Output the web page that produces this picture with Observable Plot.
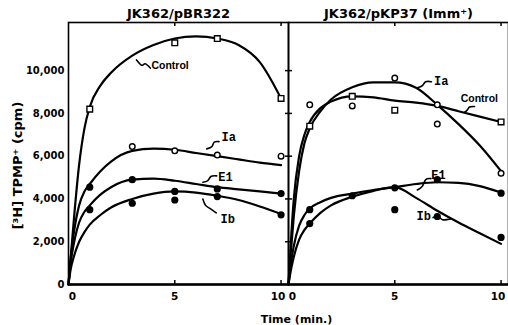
<!DOCTYPE html>
<html><head><meta charset="utf-8">
<script src="https://cdn.jsdelivr.net/npm/d3@7"></script>
<script src="https://cdn.jsdelivr.net/npm/@observablehq/plot@0.6"></script>
<style>body{margin:0;background:#fff;overflow:hidden}</style>
</head><body><div id="chart"></div>
<script>
const panels = ["JK362/pBR322", "JK362/pKP37 (Imm⁺)"];
const xTickZero = [0];
const xTickFive = [5];
const xTickTen = [10];
const xInnerTicks = [5, 10];
const yTicks = [0, 2000, 4000, 6000, 8000, 10000];
const yLabel = "[³H] TPMP⁺ (cpm)";
const xLabel = "Time (min.)";

// fitted curves, read at these times
const curveX = [0, 0.1, 0.25, 0.5, 0.75, 1, 1.5, 2, 3, 4, 5, 6, 7, 8, 9, 10];
const leftControlCurve = [0, 1200, 3000, 5600, 7300, 8300, 9300, 9900, 10700, 11200, 11500, 11600, 11500, 11200, 10400, 8700];
const leftIaCurve      = [0, 1200, 2400, 3700, 4350, 4700, 5300, 5750, 6250, 6350, 6300, 6150, 6000, 5850, 5700, 5580];
const leftE1Curve      = [0, 1000, 1900, 2900, 3400, 3700, 4200, 4550, 4900, 4950, 4850, 4700, 4550, 4450, 4350, 4250];
const leftIbCurve      = [0, 700, 1300, 2000, 2450, 2800, 3250, 3600, 4000, 4250, 4350, 4300, 4150, 3950, 3650, 3300];
const rightControlCurve= [0, 1800, 4000, 6000, 7000, 7600, 8250, 8550, 8800, 8750, 8600, 8500, 8350, 8100, 7850, 7600];
const rightIaCurve     = [0, 1400, 3200, 5300, 6600, 7300, 8100, 8650, 9220, 9450, 9450, 9200, 8400, 7500, 6500, 5300];
const rightE1Curve     = [0, 900, 1800, 2750, 3250, 3550, 3850, 4050, 4250, 4420, 4550, 4700, 4780, 4750, 4600, 4300];
const rightIbCurve     = [0, 600, 1300, 2100, 2550, 2850, 3350, 3700, 4100, 4380, 4550, 4050, 3450, 2900, 2400, 1900];

// measured points [time, cpm]
const leftControlPts = [[1, 8200], [5, 11300], [7, 11500], [10, 8700]];          // open squares
const leftIaPts      = [[3, 6450], [5, 6250], [7, 6050], [10, 6000]];            // open circles
const leftE1Pts      = [[1, 4550], [1, 3500], [3, 4900], [7, 4470], [10, 4250]]; // filled
const leftIbPts      = [[3, 3800], [5, 3950], [5, 4350], [7, 4110], [10, 3260]]; // filled
const rightControlPts= [[1, 7400], [3, 8800], [5, 8150], [10, 7600]];            // open squares
const rightIaPts     = [[1, 8400], [3, 8350], [5, 9650], [7, 8400], [7, 7500], [10, 5200]]; // open circles
const rightE1Pts     = [[1, 3500], [3, 4150], [5, 4520], [7, 4900], [10, 4270]]; // filled
const rightIbPts     = [[1, 2850], [5, 3500], [7, 3180], [10, 2200]];            // filled

// series labels [text, x, y] and their leader squiggles
const leftLabels  = [["Control", 3.9, 10230], ["Ia", 7.2, 6870], ["E1", 7.05, 5000], ["Ib", 7.15, 3040]];
const rightLabels = [["Ia", 6.85, 9490], ["Control", 8.1, 8680], ["E1", 6.72, 5130], ["Ib", 6.02, 3180]];
const leftLeaders = [
  [[3.2, 10500], [3.45, 10250], [3.6, 10320], [3.85, 10120]],
  [[6.5, 6340], [6.75, 6450], [6.85, 6650], [7.08, 6680]],
  [[6.32, 4780], [6.55, 4850], [6.7, 5050], [6.97, 5080]],
  [[6.32, 4000], [6.45, 3700], [6.65, 3560], [6.95, 3350]]
];
const rightLeaders = [
  [[6.06, 9200], [6.3, 9300], [6.45, 9480], [6.72, 9480]],
  [[8.29, 8060], [8.42, 8170], [8.52, 8300], [8.75, 8320]],
  [[6.06, 4420], [6.3, 4600], [6.45, 4900], [6.7, 4950]],
  [[6.8, 3130], [7.05, 3170], [7.25, 3030], [7.62, 3060]]
];

// build tables
const curves = [];
[[panels[0], "Control", leftControlCurve], [panels[0], "Ia", leftIaCurve], [panels[0], "E1", leftE1Curve], [panels[0], "Ib", leftIbCurve],
 [panels[1], "Control", rightControlCurve], [panels[1], "Ia", rightIaCurve], [panels[1], "E1", rightE1Curve], [panels[1], "Ib", rightIbCurve]]
  .forEach(([panel, series, ys]) => ys.forEach((y, i) => curves.push({panel, series: panel + series, x: curveX[i], y})));

const pts = [];
[[panels[0], "square", leftControlPts], [panels[0], "open", leftIaPts], [panels[0], "filled", leftE1Pts], [panels[0], "filled", leftIbPts],
 [panels[1], "square", rightControlPts], [panels[1], "open", rightIaPts], [panels[1], "filled", rightE1Pts], [panels[1], "filled", rightIbPts]]
  .forEach(([panel, marker, arr]) => arr.forEach(([x, y]) => pts.push({panel, marker, x, y})));

const labels = [
  ...leftLabels.map(([text, x, y]) => ({panel: panels[0], text, x, y})),
  ...rightLabels.map(([text, x, y]) => ({panel: panels[1], text, x, y}))
];
const leaders = [];
leftLeaders.forEach((l, k) => l.forEach(([x, y]) => leaders.push({panel: panels[0], id: "L" + k, x, y})));
rightLeaders.forEach((l, k) => l.forEach(([x, y]) => leaders.push({panel: panels[1], id: "R" + k, x, y})));

const tickRows = ticks => panels.flatMap(p => ticks.map(v => ({panel: p, x: v, text: String(v)})));
const titles = panels.map(p => ({panel: p, text: p}));
const innerH = 325 - 22 - 41;
const xTickStyle = {fx: "panel", x: "x", text: "text", frameAnchor: "bottom", lineAnchor: "top", dy: 8, fontSize: 10.5, fontWeight: "bold"};

const chart = Plot.plot({
  width: 508, height: 325,
  marginLeft: 68, marginRight: 0, marginTop: 22, marginBottom: 41,
  style: {fontFamily: "DejaVu Sans", background: "white", color: "black"},
  fx: {domain: panels, padding: 0, axis: null},
  x: {domain: [0, 10.35], axis: null},
  y: {domain: [0, 12250]},
  marks: [
    Plot.frame({strokeWidth: 1.6}),
    Plot.ruleY([0], {strokeWidth: 2.4}),
    Plot.axisY({anchor: "left", ticks: yTicks, tickSize: 0, tickPadding: 4, tickFormat: d3.format(","),
      fontSize: 10, fontWeight: "bold", label: null}),
    Plot.axisY({anchor: "right", facetAnchor: "left", ticks: yTicks.slice(1), tickSize: 3, tickFormat: () => "", label: null, strokeWidth: 1.5}),
    Plot.axisY({anchor: "left", facetAnchor: "right", ticks: yTicks.slice(1), tickSize: 3, tickFormat: () => "", label: null, strokeWidth: 1.5}),
    Plot.text(tickRows(xTickZero), {...xTickStyle, dx: 4}),
    Plot.text(tickRows(xTickFive), xTickStyle),
    Plot.text(tickRows(xTickTen), {...xTickStyle, dx: -3}),
    Plot.ruleX(xInnerTicks, {insetTop: innerH - 4, strokeWidth: 1.5}),
    Plot.ruleX(xInnerTicks, {insetBottom: innerH - 4, strokeWidth: 1.5}),
    Plot.line(curves, {fx: "panel", x: "x", y: "y", z: "series", curve: "monotone-x", strokeWidth: 2.2}),
    Plot.line(leaders, {fx: "panel", x: "x", y: "y", z: "id", curve: "natural", strokeWidth: 1.6}),
    Plot.dot(pts.filter(d => d.marker === "open"), {fx: "panel", x: "x", y: "y", r: 2.8, fill: "white", stroke: "black", strokeWidth: 1.4}),
    Plot.dot(pts.filter(d => d.marker === "square"), {fx: "panel", x: "x", y: "y", symbol: "square", r: 3.2, fill: "white", stroke: "black", strokeWidth: 1.4}),
    Plot.dot(pts.filter(d => d.marker === "filled"), {fx: "panel", x: "x", y: "y", r: 3.6, fill: "black"}),
    Plot.text(labels.filter(d => d.text === "Control"), {fx: "panel", x: "x", y: "y", text: "text", textAnchor: "start",
      fontSize: 10.5, fontWeight: "bold", fontFamily: "Liberation Sans"}),
    Plot.text(labels.filter(d => d.text !== "Control"), {fx: "panel", x: "x", y: "y", text: "text", textAnchor: "start",
      fontSize: 12, fontWeight: "bold", fontFamily: "Liberation Mono"}),
    Plot.text(titles, {fx: "panel", text: "text", frameAnchor: "top", lineAnchor: "bottom", dy: -5, fontSize: 13, fontWeight: "bold"}),
    Plot.text([{panel: panels[0], text: yLabel}], {fx: "panel", text: "text", frameAnchor: "left", textAnchor: "middle",
      rotate: -90, dx: -51, dy: 12, fontSize: 13, fontWeight: "bold"}),
    Plot.text([{panel: panels[1], text: xLabel}], {fx: "panel", text: "text", frameAnchor: "bottom-left", textAnchor: "middle",
      lineAnchor: "bottom", dx: 8, dy: 38, fontSize: 11, fontWeight: "bold"})
  ]
});
document.getElementById("chart").appendChild(chart);
</script>
</body></html>
